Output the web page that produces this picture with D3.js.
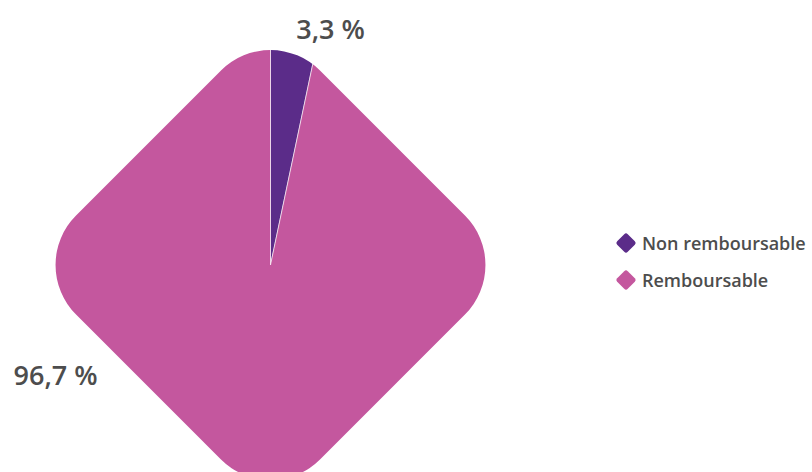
<!DOCTYPE html>
<html>
<head>
<meta charset="utf-8">
<script src="https://cdn.jsdelivr.net/npm/d3@7"></script>
<style>
  body { margin: 0; background: #fff; }
  text { font-family: "Open Sans", "Noto Sans", sans-serif; fill: #4d4d4d; }
</style>
</head>
<body>
<script>
var WIDTH = 812, HEIGHT = 472

var categories = ['Non remboursable', 'Remboursable']
var values = [3.3, 96.7]
var valueLabels = ['3,3 %', '96,7 %']

var color = d3.scaleOrdinal()
  .domain(categories)
  .range(['#5b2c89', '#c4579e'])

var cx = 270.5, cy = 265,
  half = 172.5,     // half side of the rounded square
  corner = 70

var svg = d3.select('body').append('svg')
  .attr('width', WIDTH)
  .attr('height', HEIGHT)

svg.append('defs').append('clipPath')
  .attr('id', 'shape')
  .append('rect')
  .attr('x', -half).attr('y', -half)
  .attr('width', half * 2).attr('height', half * 2)
  .attr('rx', corner).attr('ry', corner)
  .attr('transform', 'rotate(45)')

var pie = d3.pie().sort(null).value(function(d){ return d })
var arc = d3.arc().innerRadius(0).outerRadius(320)

var g = svg.append('g')
  .attr('transform', 'translate(' + cx + ',' + cy + ')')

g.append('g')
  .attr('clip-path', 'url(#shape)')
  .selectAll('path').data(pie(values))
  .enter().append('path')
  .attr('d', arc)
  .attr('fill', function(d, i){ return color(categories[i]) })
  .attr('stroke', '#fff')
  .attr('stroke-width', 0.6)

// outside labels
var labelPos = [[60, -226], [-215, 120]]
g.selectAll('.lbl').data(valueLabels)
  .enter().append('text')
  .attr('class', 'lbl')
  .attr('x', function(d, i){ return labelPos[i][0] })
  .attr('y', function(d, i){ return labelPos[i][1] })
  .attr('text-anchor', 'middle')
  .style('font-size', '27px')
  .style('font-weight', 600)
  .text(function(d){ return d })

// legend
var legend = svg.append('g')
  .attr('transform', 'translate(626,243)')

var item = legend.selectAll('g').data(categories)
  .enter().append('g')
  .attr('transform', function(d, i){ return 'translate(0,' + (i * 37) + ')' })

item.append('rect')
  .attr('x', -7.5).attr('y', -7.5)
  .attr('width', 15).attr('height', 15)
  .attr('rx', 2.5)
  .attr('transform', 'rotate(45)')
  .attr('fill', function(d){ return color(d) })

item.append('text')
  .attr('x', 16)
  .attr('y', 7)
  .style('font-size', '18px')
  .style('font-weight', 600)
  .text(function(d){ return d })
</script>
</body>
</html>
